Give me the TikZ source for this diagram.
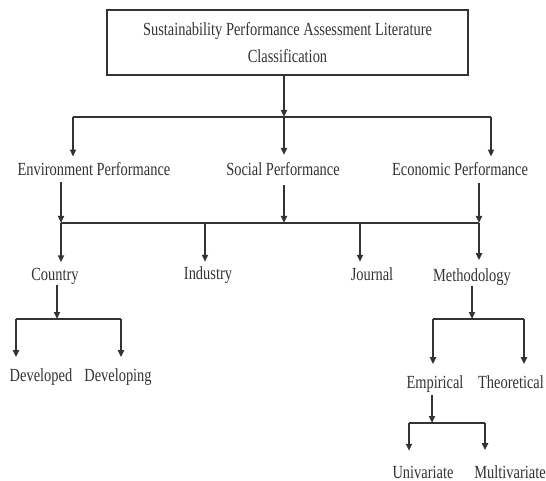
\documentclass[tikz,border=0pt]{standalone}
\usepackage{fontspec}
\setmainfont{Liberation Serif}[FakeStretch=0.78]
\usetikzlibrary{arrows.meta}
\definecolor{ink}{HTML}{333333}
\begin{document}
\begin{tikzpicture}[x=1pt,y=-1pt,
  lbl/.style={font=\fontsize{18.5}{27}\selectfont, text=ink, inner sep=0pt, outer sep=0pt, anchor=base},
  conn/.style={draw=ink, line width=1.8pt},
  arr/.style={conn, -{Triangle[length=7pt,width=6pt]}},
]
\useasboundingbox[fill=white] (0,0) rectangle (546,481);

% root
\node[draw=ink, line width=2.2pt, minimum width=361pt, minimum height=65pt, inner sep=0pt,
      align=center, font=\fontsize{18.5}{27}\selectfont, text=ink] (root) at (287.5,42.5)
  {Sustainability Performance Assessment Literature\\Classification};

% level 2
\node[lbl] (env) at (94,176) {Environment Performance};
\node[lbl] (soc) at (283,176) {Social Performance};
\node[lbl] (eco) at (460,176) {Economic Performance};

% level 3
\node[lbl] (cty) at (55,280) {Country};
\node[lbl] (ind) at (208,279) {Industry};
\node[lbl] (jou) at (372,280) {Journal};
\node[lbl] (met) at (472,281) {Methodology};

% level 4
\node[lbl] (dvd) at (41,381) {Developed};
\node[lbl] (dvg) at (118,381) {Developing};
\node[lbl] (emp) at (435,388) {Empirical};
\node[lbl] (the) at (511,388) {Theoretical};

% level 5
\node[lbl] (uni) at (423,478) {Univariate};
\node[lbl] (mul) at (510,478) {Multivariate};

% junction coordinates
\coordinate (j0) at (284,117);
\coordinate (jl) at (73,117);
\coordinate (jr) at (491,117);
\coordinate (k1) at (61,223);
\coordinate (k2) at (284,223);
\coordinate (k3) at (479,223);
\coordinate (k4) at (205,223);
\coordinate (k5) at (360,223);
\coordinate (c0) at (57,319);
\coordinate (cl) at (16,319);
\coordinate (cr) at (121,319);
\coordinate (m0) at (472,319);
\coordinate (ml) at (433,319);
\coordinate (mr) at (524,319);
\coordinate (e0) at (432,423);
\coordinate (el) at (409,423);
\coordinate (er) at (485,423);

% root -> level 2
\draw[arr] (root.south -| j0) -- (j0);
\draw[conn] (jl) -- (jr);
\draw[arr, shorten >=6.4pt] (jl) -- (jl |- env.north);
\draw[arr, shorten >=8pt] (j0) -- (j0 |- soc.north);
\draw[arr, shorten >=6.4pt] (jr) -- (jr |- eco.north);

% level 2 -> bar
\draw[arr, shorten <=6pt] (env.south -| k1) -- (k1);
\draw[arr, shorten <=9pt] (soc.south -| k2) -- (k2);
\draw[arr, shorten <=7pt] (eco.south -| k3) -- (k3);
\draw[conn] (k1) -- (k3);

% bar -> level 3
\draw[arr, shorten >=5.5pt] (k1) -- (k1 |- cty.north);
\draw[arr, shorten >=4.4pt] (k4) -- (k4 |- ind.north);
\draw[arr, shorten >=5.4pt] (k5) -- (k5 |- jou.north);
\draw[arr, shorten >=8pt] (k3) -- (k3 |- met.north);

% country
\draw[arr, shorten <=1pt] (cty.south -| c0) -- (c0);
\draw[conn] (cl) -- (cr);
\draw[arr, shorten >=11pt] (cl) -- (cl |- dvd.north);
\draw[arr, shorten >=11pt] (cr) -- (cr |- dvg.north);

% methodology
\draw[arr, shorten <=1pt] (met.south -| m0) -- (m0);
\draw[conn] (ml) -- (mr);
\draw[arr, shorten >=11pt] (ml) -- (ml |- emp.north);
\draw[arr, shorten >=11pt] (mr) -- (mr |- the.north);

% empirical
\draw[arr, shorten <=3pt] (emp.south -| e0) -- (e0);
\draw[conn] (el) -- (er);
\draw[arr, shorten >=15pt] (el) -- (el |- uni.north);
\draw[arr, shorten >=15pt] (er) -- (er |- mul.north);
\end{tikzpicture}
\end{document}
